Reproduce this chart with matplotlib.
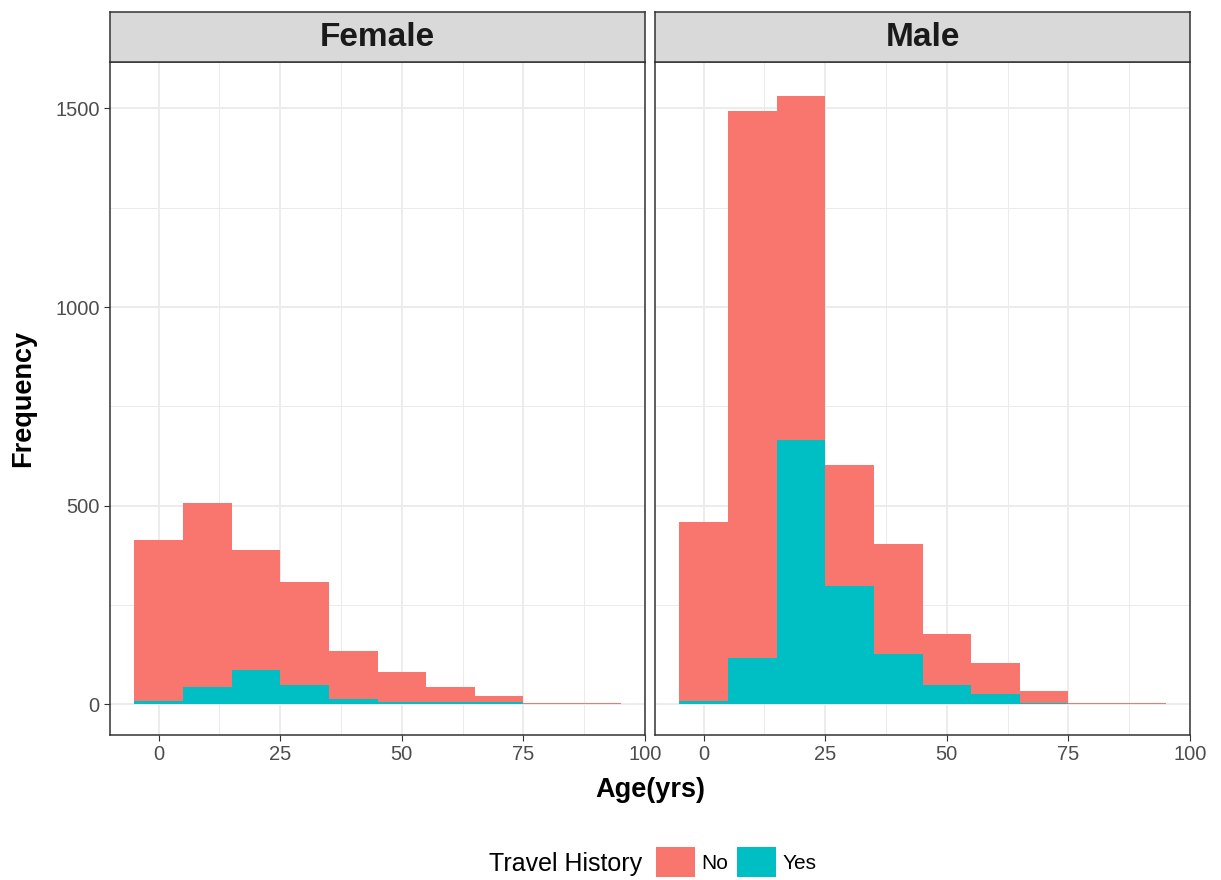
import numpy as np
import matplotlib.pyplot as plt
from matplotlib.patches import Patch
from matplotlib.ticker import MultipleLocator

plt.rcParams['font.family'] = ['Liberation Sans', 'DejaVu Sans']

# histogram bins (width 10, centred on these ages)
age_bins = [0, 10, 20, 30, 40, 50, 60, 70, 80, 90]
panels = ['Female', 'Male']

# counts
female_yes = [8, 44, 87, 48, 13, 5, 5, 5, 0, 0]
female_no = [407, 462, 302, 260, 121, 77, 39, 17, 3, 3]
male_yes = [8, 118, 666, 299, 126, 48, 26, 4, 0, 0]
male_no = [451, 1375, 866, 303, 277, 129, 77, 30, 3, 3]

yes_counts = {'Female': female_yes, 'Male': male_yes}
no_counts = {'Female': female_no, 'Male': male_no}

col_no = '#F8766D'
col_yes = '#00BFC4'
grid_col = '#EBEBEB'
frame_col = '#333333'

fig = plt.figure(figsize=(12.21, 8.8), dpi=100)

W, H = 1221, 880
left_px = [110, 655]
panel_w = 535
top_px, bot_px = 62, 735
strip_h = 50

for i, name in enumerate(panels):
    ax = fig.add_axes([left_px[i] / W, 1 - bot_px / H, panel_w / W, (bot_px - top_px) / H])
    yes = np.array(yes_counts[name])
    no = np.array(no_counts[name])
    ax.bar(age_bins, yes, width=10, color=col_yes, linewidth=0, zorder=3)
    ax.bar(age_bins, no, width=10, bottom=yes, color=col_no, linewidth=0, zorder=3)

    ax.set_xlim(-10, 100)
    ax.set_ylim(-77, 1617)
    ax.xaxis.set_major_locator(MultipleLocator(25))
    ax.xaxis.set_minor_locator(MultipleLocator(12.5))
    ax.yaxis.set_major_locator(MultipleLocator(500))
    ax.yaxis.set_minor_locator(MultipleLocator(250))
    ax.grid(which='major', color=grid_col, linewidth=1.3, zorder=0)
    ax.grid(which='minor', color=grid_col, linewidth=0.7, zorder=0)
    ax.set_axisbelow(True)
    for s in ax.spines.values():
        s.set_color(frame_col)
        s.set_linewidth(1.1)
    ax.tick_params(which='minor', length=0)
    ax.tick_params(which='major', length=4, color=frame_col, labelsize=14.5,
                   labelcolor='#4D4D4D', pad=3.5)
    if i == 1:
        ax.tick_params(axis='y', which='both', left=False, labelleft=False)

    # facet strip
    sax = fig.add_axes([left_px[i] / W, 1 - top_px / H, panel_w / W, strip_h / H])
    sax.set_xticks([])
    sax.set_yticks([])
    sax.set_facecolor('#D9D9D9')
    for s in sax.spines.values():
        s.set_color(frame_col)
        s.set_linewidth(1.1)
    sax.text(0.5, 0.5, name, ha='center', va='center', fontsize=24,
             fontweight='bold', color='#1A1A1A', transform=sax.transAxes)

fig.text(650 / W, 1 - 790 / H, 'Age(yrs)', ha='center', va='center',
         fontsize=19.5, fontweight='bold')
fig.text(23 / W, 1 - 398 / H, 'Frequency', ha='center', va='center',
         rotation=90, fontsize=19.5, fontweight='bold')

# legend
fig.text(642 / W, 1 - 864 / H, 'Travel History', ha='right', va='center', fontsize=18)
handles = [Patch(facecolor=col_no, edgecolor='none'), Patch(facecolor=col_yes, edgecolor='none')]
fig.legend(handles, ['No', 'Yes'], loc='center left', bbox_to_anchor=(648 / W, 1 - 862 / H),
           ncol=2, frameon=False, fontsize=15, handlelength=1.85, handleheight=1.85,
           handletextpad=0.3, columnspacing=0.45, borderaxespad=0)

fig.savefig('out.png', dpi=100)
